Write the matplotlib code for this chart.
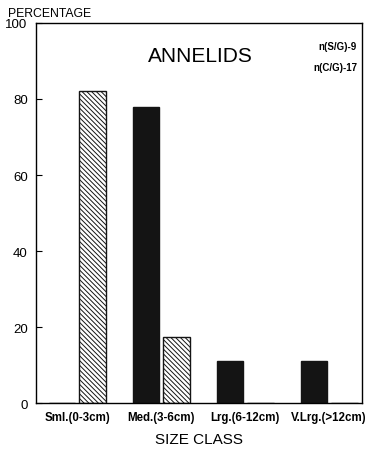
import matplotlib.pyplot as plt
import numpy as np

plt.rcParams['font.family'] = ['Liberation Sans', 'DejaVu Sans']
plt.rcParams['hatch.linewidth'] = 0.7

# Data
size_classes = ['Sml.(0-3cm)', 'Med.(3-6cm)', 'Lrg.(6-12cm)', 'V.Lrg.(>12cm)']
pct_cg = [0, 78, 11, 11]     # solid black bars, n(C/G)=17
pct_sg = [82, 17.5, 0, 0]    # hatched bars, n(S/G)=9

fig = plt.figure(figsize=(3.67, 4.52), dpi=100)
ax = fig.add_axes([0.098, 0.106, 0.888, 0.841])

x = np.arange(len(size_classes))
w = 0.32
ax.bar(x - 0.18, pct_cg, width=w, color='#141414', edgecolor='#141414')
ax.bar(x + 0.18, pct_sg, width=w, color='white', edgecolor='#141414',
       hatch='\\\\\\\\\\\\\\', linewidth=1.0)

ax.set_xlim(-0.49, 3.39)
ax.set_ylim(0, 100)
ax.set_yticks([0, 20, 40, 60, 80, 100])
ax.tick_params(axis='y', direction='in', length=4, labelsize=9.5, pad=6)
ax.set_xticks(x)
ax.set_xticklabels(size_classes, fontsize=8.3, fontweight='bold')
ax.tick_params(axis='x', length=0, pad=6)
for s in ax.spines.values():
    s.set_linewidth(1.0)

ax.set_xlabel('SIZE CLASS', fontsize=11, labelpad=6)
fig.text(0.022, 0.968, 'PERCENTAGE', fontsize=8.8, va='center')

ax.text(0.505, 0.915, 'ANNELIDS', transform=ax.transAxes, fontsize=15,
        ha='center', va='center')
ax.text(0.985, 0.94, 'n(S/G)-9', transform=ax.transAxes, fontsize=7,
        fontweight='bold', ha='right', va='center')
ax.text(0.985, 0.883, 'n(C/G)-17', transform=ax.transAxes, fontsize=7,
        fontweight='bold', ha='right', va='center')

fig.savefig('out.png', dpi=100)
